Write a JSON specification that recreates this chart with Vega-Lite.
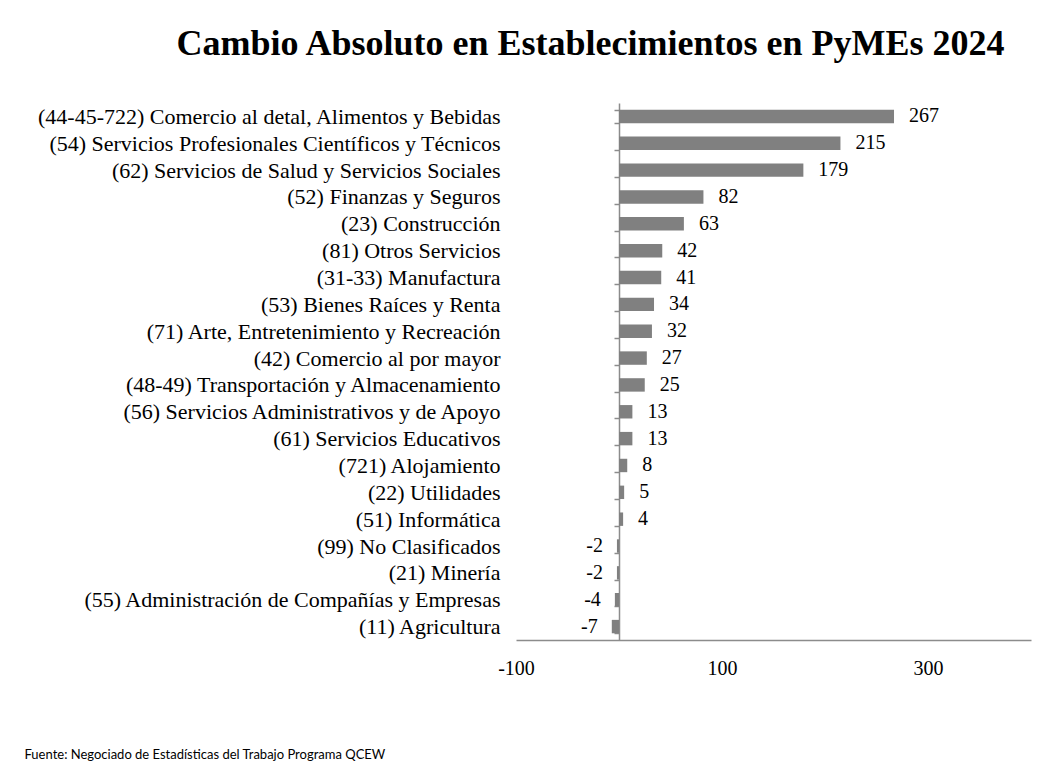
{
  "$schema": "https://vega.github.io/schema/vega-lite/v6.json",
  "autosize": "none",
  "width": 515,
  "height": 537,
  "padding": {"left": 516, "top": 103, "right": 28, "bottom": 127},
  "background": "white",
  "title": {
    "text": "Cambio Absoluto  en Establecimientos  en PyMEs 2024",
    "font": "Liberation Serif",
    "fontSize": 36,
    "fontWeight": "bold",
    "color": "#000000",
    "anchor": "middle",
    "frame": "group",
    "dx": -183,
    "baseline": "alphabetic",
    "offset": 1
  },
  "data": {
    "values": [
      {"cat": "(44-45-722) Comercio al detal, Alimentos y Bebidas", "v": 267},
      {"cat": "(54) Servicios Profesionales Científicos y Técnicos", "v": 215},
      {"cat": "(62) Servicios de Salud y Servicios Sociales", "v": 179},
      {"cat": "(52) Finanzas y Seguros", "v": 82},
      {"cat": "(23) Construcción", "v": 63},
      {"cat": "(81) Otros Servicios", "v": 42},
      {"cat": "(31-33) Manufactura", "v": 41},
      {"cat": "(53) Bienes Raíces y Renta", "v": 34},
      {"cat": "(71) Arte, Entretenimiento y Recreación", "v": 32},
      {"cat": "(42) Comercio al por mayor", "v": 27},
      {"cat": "(48-49) Transportación y Almacenamiento", "v": 25},
      {"cat": "(56) Servicios Administrativos y de Apoyo", "v": 13},
      {"cat": "(61) Servicios Educativos", "v": 13},
      {"cat": "(721) Alojamiento", "v": 8},
      {"cat": "(22) Utilidades", "v": 5},
      {"cat": "(51) Informática", "v": 4},
      {"cat": "(99) No Clasificados", "v": -2},
      {"cat": "(21) Minería", "v": -2},
      {"cat": "(55) Administración de Compañías y Empresas", "v": -4},
      {"cat": "(11) Agricultura", "v": -7}
    ]
  },
  "encoding": {
    "y": {
      "field": "cat",
      "type": "nominal",
      "sort": null,
      "scale": {"paddingInner": 0.5, "paddingOuter": 0.25},
      "axis": {
        "title": null,
        "orient": "left",
        "offset": -103,
        "domain": true,
        "domainColor": "#8c8c8c",
        "domainWidth": 1.5,
        "ticks": true,
        "tickBand": "extent",
        "tickSize": 5,
        "tickColor": "#8c8c8c",
        "tickWidth": 1.5,
        "labelPadding": 114,
        "labelFont": "Liberation Serif",
        "labelFontSize": 22,
        "labelColor": "#000000",
        "labelLimit": 600
      }
    },
    "x": {
      "field": "v",
      "type": "quantitative",
      "scale": {"domain": [-100, 400], "nice": false, "zero": false},
      "axis": {
        "title": "Fuente: Negociado de Estadísticas del Trabajo Programa QCEW",
        "titleFont": "Lato",
        "titleFontSize": 13,
        "titleFontWeight": "normal",
        "titleColor": "#000000",
        "titleX": -492,
        "titleY": 118,
        "titleAlign": "left",
        "titleBaseline": "alphabetic",
        "values": [-100, 100, 300],
        "labelExpr": "datum.value + ''",
        "labelFlush": false,
        "grid": false,
        "ticks": false,
        "domainColor": "#8c8c8c",
        "domainWidth": 1.5,
        "labelPadding": 18,
        "labelFont": "Liberation Serif",
        "labelFontSize": 20,
        "labelColor": "#000000"
      }
    }
  },
  "layer": [
    {"mark": {"type": "bar", "color": "#808080"}},
    {
      "transform": [{"filter": "datum.v >= 0"}],
      "mark": {"type": "text", "align": "left", "dx": 15, "font": "Liberation Serif", "fontSize": 20, "color": "#000000"},
      "encoding": {"text": {"field": "v", "type": "nominal"}}
    },
    {
      "transform": [{"filter": "datum.v < 0"}],
      "mark": {"type": "text", "align": "right", "dx": -14, "font": "Liberation Serif", "fontSize": 20, "color": "#000000"},
      "encoding": {"text": {"field": "v", "type": "nominal"}}
    }
  ],
  "config": {"view": {"stroke": null}}
}
